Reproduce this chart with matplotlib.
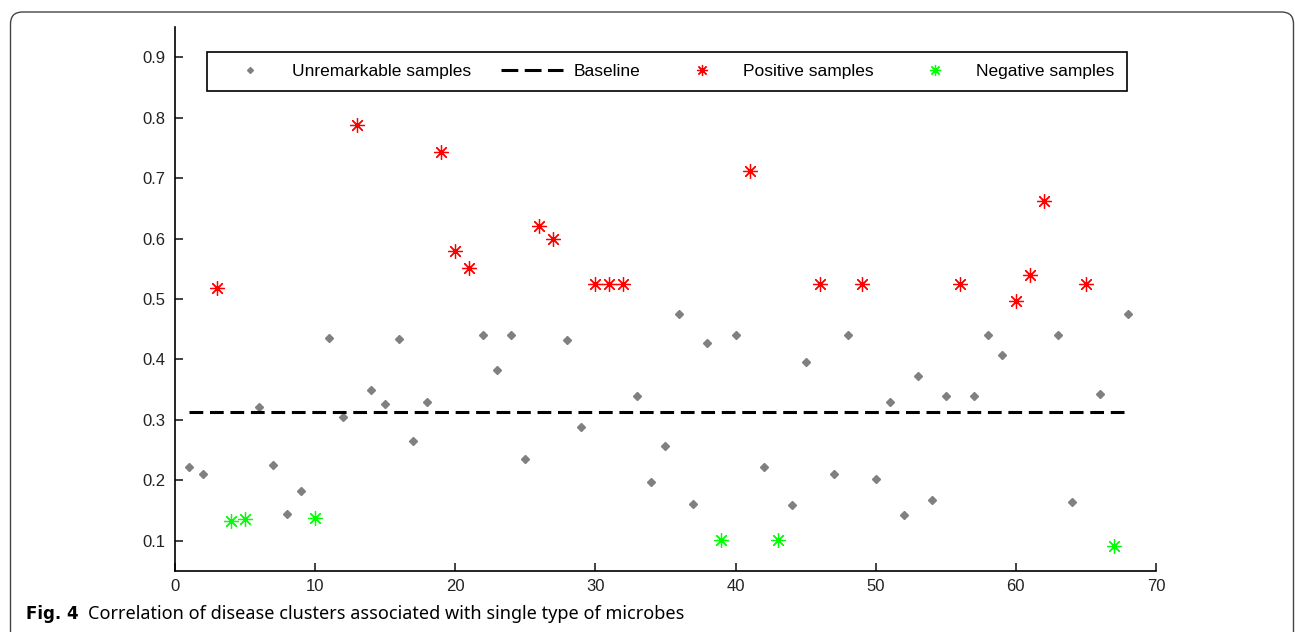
import matplotlib.pyplot as plt
from matplotlib.lines import Line2D
from matplotlib.patches import FancyBboxPatch
from matplotlib.transforms import IdentityTransform

# sample index / correlation values
unremarkable_x = [1, 2, 6, 7, 8, 9, 11, 12, 14, 15, 16, 17, 18, 22, 23, 24, 25, 28, 29,
                  33, 34, 35, 36, 37, 38, 40, 42, 44, 45, 47, 48, 50, 51, 52, 53, 54,
                  55, 57, 58, 59, 63, 64, 66, 68]
unremarkable_y = [0.222, 0.210, 0.321, 0.225, 0.144, 0.183, 0.435, 0.304, 0.350, 0.326,
                  0.433, 0.265, 0.329, 0.440, 0.382, 0.440, 0.235, 0.432, 0.288, 0.339,
                  0.198, 0.256, 0.476, 0.161, 0.428, 0.440, 0.222, 0.159, 0.396, 0.210,
                  0.440, 0.203, 0.329, 0.143, 0.372, 0.167, 0.340, 0.340, 0.440, 0.408,
                  0.440, 0.164, 0.343, 0.476]
positive_x = [3, 13, 19, 20, 21, 26, 27, 30, 31, 32, 41, 46, 49, 56, 60, 61, 62, 65]
positive_y = [0.518, 0.788, 0.744, 0.580, 0.552, 0.620, 0.600, 0.525, 0.525, 0.525,
              0.711, 0.525, 0.525, 0.525, 0.496, 0.539, 0.662, 0.525]
negative_x = [4, 5, 10, 39, 43, 67]
negative_y = [0.133, 0.136, 0.138, 0.101, 0.101, 0.092]
baseline_x = [1, 68]
baseline_value = 0.313

xticks = [0, 10, 20, 30, 40, 50, 60, 70]
yticks = [0.1, 0.2, 0.3, 0.4, 0.5, 0.6, 0.7, 0.8, 0.9]
labels = ['Unremarkable samples', 'Baseline', 'Positive samples', 'Negative samples']

plt.rcParams['font.family'] = ['Liberation Sans', 'DejaVu Sans']

fig = plt.figure(figsize=(12.95, 6.32), dpi=100)
ax = fig.add_axes([0.1351, 0.0965, 0.7575, 0.8608])

star = (8, 2, 0)
ax.plot(unremarkable_x, unremarkable_y, linestyle='none', marker='D', markersize=3.6,
        color='#808080', label=labels[0])
ax.plot(baseline_x, [baseline_value, baseline_value], color='black', linewidth=2.2,
        dashes=(4.5, 2.2), label=labels[1])
ax.plot(positive_x, positive_y, linestyle='none', marker=star, markersize=10.5,
        markeredgewidth=0.9, color='red', label=labels[2])
ax.plot(negative_x, negative_y, linestyle='none', marker=star, markersize=10.5,
        markeredgewidth=0.9, color='#00ff00', label=labels[3])

ax.set_xlim(0, 70)
ax.set_ylim(0.05, 0.95)
ax.set_xticks(xticks)
ax.set_yticks(yticks)
ax.set_xticklabels([str(t) for t in xticks])
ax.set_yticklabels([f'{t:.1f}' for t in yticks])
ax.spines['top'].set_visible(False)
ax.spines['right'].set_visible(False)
ax.spines['left'].set_linewidth(1.2)
ax.spines['bottom'].set_linewidth(1.2)
ax.tick_params(direction='in', length=6, width=1.2, labelsize=12, colors='#222222')
ax.tick_params(axis='x', pad=6)
ax.tick_params(axis='y', pad=7)

handles = [
    Line2D([], [], linestyle='none', marker='D', markersize=3, color='#808080'),
    Line2D([], [], color='black', linewidth=2.2, dashes=(5.5, 2.1)),
    Line2D([], [], linestyle='none', marker=star, markersize=8, markeredgewidth=0.9, color='red'),
    Line2D([], [], linestyle='none', marker=star, markersize=8, markeredgewidth=0.9, color='#00ff00'),
]
leg = ax.legend(handles, labels, ncol=4, loc='upper left', mode='expand',
                bbox_to_anchor=(0.0326, 0.8805, 0.9378, 0.0735), borderaxespad=0,
                fancybox=False, framealpha=1, edgecolor='black', fontsize=12.5,
                handlelength=3.6, handletextpad=0.6, borderpad=0.7, columnspacing=1.5)
leg.get_frame().set_linewidth(1.2)

# rounded outer frame of the figure panel
frame = FancyBboxPatch((10.5, -30), 1283, 650, boxstyle='round,pad=0,rounding_size=12',
                       transform=IdentityTransform(), facecolor='none',
                       edgecolor='#444444', linewidth=1)
fig.patches.append(frame)

fig.text(26 / 1295, 18 / 632, 'Fig. 4', fontsize=12, fontweight='bold',
         family=['DejaVu Sans'], va='center', ha='left')
fig.text(88 / 1295, 18 / 632,
         'Correlation of disease clusters associated with single type of microbes',
         fontsize=13, family=['Noto Sans', 'DejaVu Sans'], va='center', ha='left')

fig.savefig('out.png', dpi=100)
